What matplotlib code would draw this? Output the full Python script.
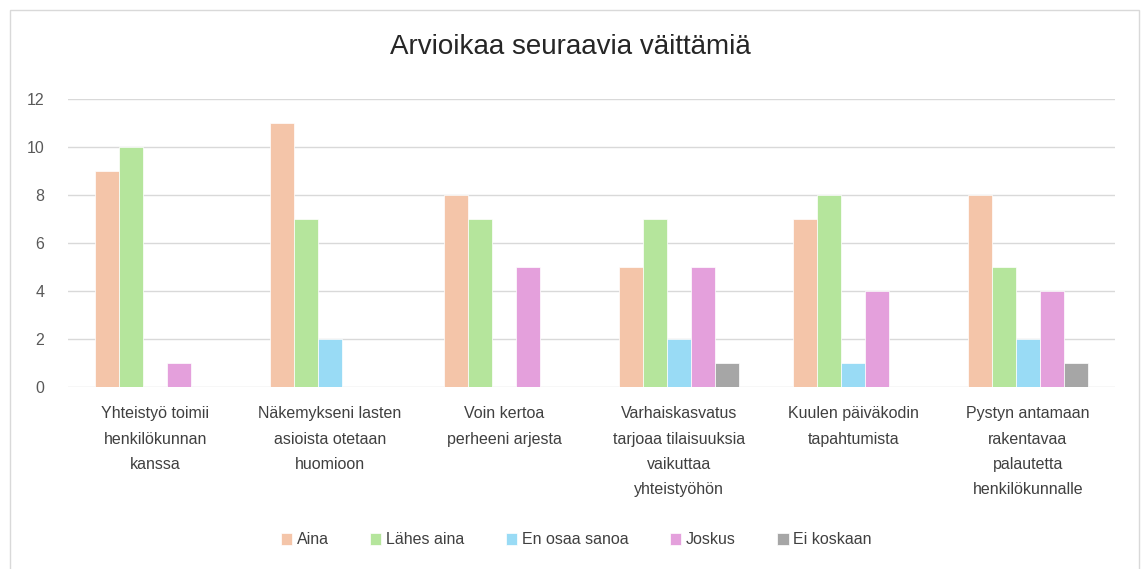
import numpy as np
import matplotlib as mpl
mpl.use('Agg')
import matplotlib.pyplot as plt
from matplotlib.patches import Rectangle

plt.rcParams['font.family'] = ['Liberation Sans', 'DejaVu Sans']

categories = [
    "Yhteistyö toimii\nhenkilökunnan\nkanssa",
    "Näkemykseni lasten\nasioista otetaan\nhuomioon",
    "Voin kertoa\nperheeni arjesta",
    "Varhaiskasvatus\ntarjoaa tilaisuuksia\nvaikuttaa\nyhteistyöhön",
    "Kuulen päiväkodin\ntapahtumista",
    "Pystyn antamaan\nrakentavaa\npalautetta\nhenkilökunnalle",
]
series = ["Aina", "Lähes aina", "En osaa sanoa", "Joskus", "Ei koskaan"]
aina = [9, 11, 8, 5, 7, 8]
lahes_aina = [10, 7, 7, 7, 8, 5]
en_osaa = [0, 2, 0, 2, 1, 2]
joskus = [1, 0, 5, 5, 4, 4]
ei_koskaan = [0, 0, 0, 1, 0, 1]
values = [aina, lahes_aina, en_osaa, joskus, ei_koskaan]
colors = ["#F4C5A9", "#B5E59C", "#99DBF5", "#E4A0DC", "#A6A6A6"]

fig = plt.figure(figsize=(11.41, 5.69), dpi=100)
ax = fig.add_axes([68 / 1141, 1 - 387 / 569, (1115 - 68) / 1141, (387 - 99) / 569])

# chart border
fig.patches.append(Rectangle((10 / 1141, -0.1), 1129 / 1141, 1.1 - 10 / 569,
                             transform=fig.transFigure, fill=False,
                             edgecolor="#D9D9D9", linewidth=1))

x = np.arange(len(categories))
w = 0.1375
for i, (name, vals, c) in enumerate(zip(series, values, colors)):
    ax.bar(x + (i - 2) * w, vals, w, color=c, label=name, zorder=3,
           edgecolor="white", linewidth=0.5)

ax.set_xlim(-0.5, len(categories) - 0.5)
ax.set_ylim(0, 12)
ax.set_yticks(range(0, 13, 2))
ax.grid(axis='y', color="#D9D9D9", linewidth=1, zorder=0)
for s in ax.spines.values():
    s.set_visible(False)
ax.tick_params(axis='both', length=0, labelsize=11.5, colors="#595959")
ax.tick_params(axis='y', pad=17)
ax.tick_params(axis='x', pad=14)
ax.set_xticks(x)
ax.set_xticklabels(categories, color="#404040", linespacing=1.85)
for lbl in ax.get_xticklabels():
    lbl.set_verticalalignment('top')

fig.text(0.5, 1 - 47 / 569, "Arvioikaa seuraavia väittämiä", ha='center', va='center',
         fontsize=20, color="#262626")

fig.legend(loc='center', bbox_to_anchor=(0.505, 1 - 540 / 569), ncol=5, frameon=False,
           fontsize=11.5, handlelength=0.7, handleheight=0.7, handletextpad=0.3,
           columnspacing=2.6, labelcolor="#404040")

fig.savefig("out.png", dpi=100)
